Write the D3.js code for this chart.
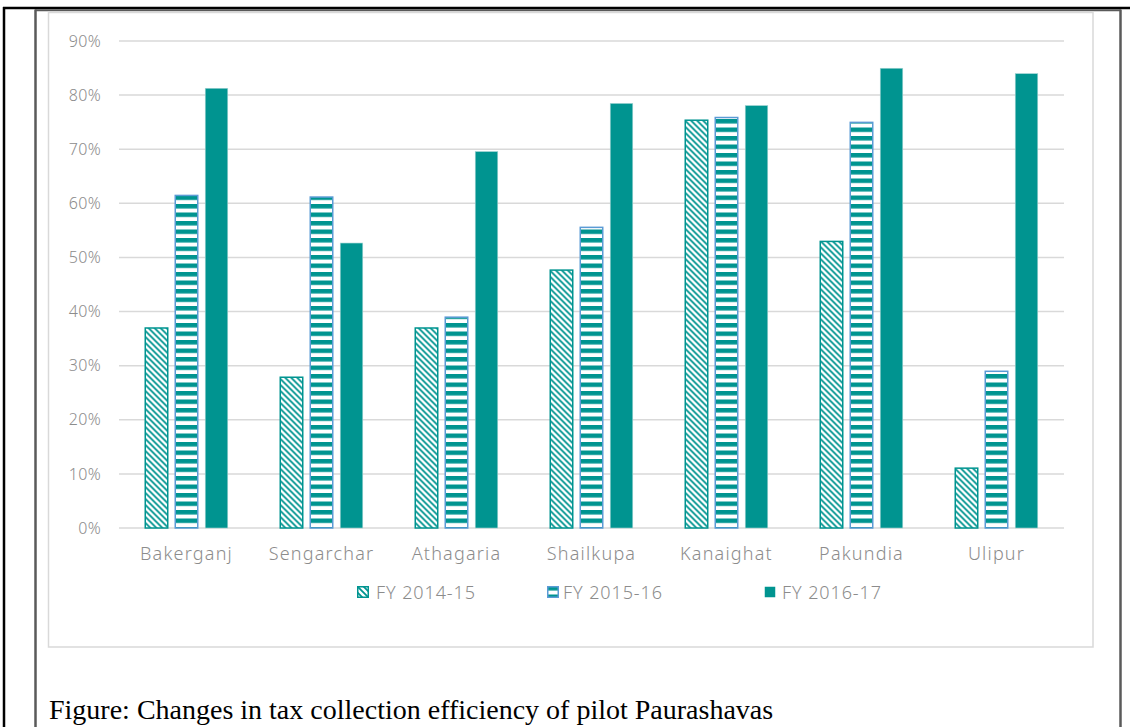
<!DOCTYPE html>
<html><head><meta charset="utf-8">
<script src="https://cdn.jsdelivr.net/npm/d3@7"></script>
<style>
html,body{margin:0;padding:0;background:#fff;}
svg{display:block;}
</style></head>
<body>
<svg id="c" width="1130" height="727"></svg>
<script>
const categories = ["Bakerganj","Sengarchar","Athagaria","Shailkupa","Kanaighat","Pakundia","Ulipur"];
const seriesNames = ["FY 2014-15","FY 2015-16","FY 2016-17"];
const fy1415 = [37.1, 28.0, 37.1, 47.8, 75.5, 53.1, 11.2];
const fy1516 = [61.6, 61.3, 39.1, 55.7, 76.0, 75.1, 29.1];
const fy1617 = [81.4, 52.8, 69.7, 78.6, 78.2, 85.1, 84.1];
const yTicks = [0,10,20,30,40,50,60,70,80,90];
const caption = "Figure: Changes in tax collection efficiency of pilot Paurashavas";

const teal = "#009490";
const svg = d3.select("#c");

// patterns
const defs = svg.append("defs");
const hatch = defs.append("pattern").attr("id","hatch").attr("patternUnits","userSpaceOnUse")
  .attr("width",6).attr("height",6);
hatch.append("rect").attr("width",6).attr("height",6).attr("fill","#fff");
hatch.append("path").attr("d","M-1,-1 L7,7 M-4,2 L1,7 M2,-4 L7,1").attr("stroke",teal).attr("stroke-width",1.8);
const stripe = defs.append("pattern").attr("id","stripe").attr("patternUnits","userSpaceOnUse")
  .attr("width",8).attr("height",8.5);
stripe.append("rect").attr("width",8).attr("height",8.5).attr("fill","#fff");
stripe.append("rect").attr("y",0).attr("width",8).attr("height",4.5).attr("fill",teal);

// outer page frame
svg.append("line").attr("x1",3).attr("x2",1130).attr("y1",8).attr("y2",8).attr("stroke","#000").attr("stroke-width",2.5);
svg.append("line").attr("x1",4).attr("x2",4).attr("y1",7).attr("y2",727).attr("stroke","#000").attr("stroke-width",2.5);
svg.append("line").attr("x1",35).attr("x2",1121).attr("y1",10.3).attr("y2",10.3).attr("stroke","#5a5a5a").attr("stroke-width",2);
svg.append("line").attr("x1",35.5).attr("x2",35.5).attr("y1",9.5).attr("y2",727).attr("stroke","#5a5a5a").attr("stroke-width",2.5);
svg.append("line").attr("x1",1120.5).attr("x2",1120.5).attr("y1",9.5).attr("y2",727).attr("stroke","#5a5a5a").attr("stroke-width",2.5);

// chart box
svg.append("rect").attr("x",48.5).attr("y",12.5).attr("width",1044.5).attr("height",634.5)
  .attr("fill","#fff").attr("stroke","#d9d9d9").attr("stroke-width",1.5);

const x0 = d3.scaleBand().domain(categories).range([119,1064]).paddingInner(0).paddingOuter(0);
const x1 = d3.scaleBand().domain(seriesNames).range([0,84]).paddingInner(0.2);
const y = d3.scaleLinear().domain([0,90]).range([528,41]);

// gridlines
svg.append("g").selectAll("line").data(yTicks).join("line")
  .attr("x1",119).attr("x2",1064).attr("y1",d=>y(d)).attr("y2",d=>y(d))
  .attr("stroke","#d9d9d9").attr("stroke-width",1.5);

const labelFont = "Noto Sans, sans-serif";
const grey = "#8c8c8c";

// y axis labels
const yAxis = d3.axisLeft(y).tickValues(yTicks).tickFormat(d=>d+"%").tickSize(0).tickPadding(0);
const ya = svg.append("g").attr("transform","translate(101,0)").call(yAxis);
ya.select(".domain").remove();
ya.selectAll("text").attr("font-family",labelFont).attr("font-size",16).attr("fill",grey)
  .attr("font-weight",300).attr("letter-spacing",0.3);

// x axis labels
const xAxis = d3.axisBottom(x0).tickSize(0).tickPadding(0);
const xa = svg.append("g").attr("transform","translate(0,547)").call(xAxis);
xa.select(".domain").remove();
xa.selectAll("text").attr("font-family",labelFont).attr("font-size",18).attr("fill",grey)
  .attr("font-weight",300).attr("letter-spacing",1.2);

// bars
const rows = categories.map((c,i)=>({cat:c, vals:[fy1415[i],fy1516[i],fy1617[i]]}));
const fills = ["url(#hatch)","url(#stripe)",teal];
const strokes = [teal,"#5b9bd5","#9fd3d2"];
const groups = svg.append("g").selectAll("g").data(rows).join("g")
  .attr("transform",d=>`translate(${x0(d.cat)+x0.bandwidth()/2-42},0)`);
groups.selectAll("rect").data(d=>d.vals.map((v,j)=>({v,j}))).join("rect")
  .attr("x",d=>x1(seriesNames[d.j])+0.75)
  .attr("width",x1.bandwidth()-1.5)
  .attr("y",d=>y(d.v)+0.75)
  .attr("height",d=>y(0)-y(d.v)-0.75)
  .attr("fill",d=>fills[d.j])
  .attr("stroke",d=>strokes[d.j])
  .attr("stroke-width",d=>d.j===2?0.6:1.5);

// legend
const legX = [357, 547, 764];
const lg = svg.append("g").selectAll("g").data(seriesNames).join("g")
  .attr("transform",(d,i)=>`translate(${legX[i]},586)`);
lg.append("rect").attr("x",0.75).attr("y",0.75).attr("width",10.5).attr("height",10.5)
  .attr("fill",(d,i)=>fills[i]).attr("stroke",(d,i)=>strokes[i]).attr("stroke-width",(d,i)=>i===2?0:1.5);
lg.append("text").attr("x",(d,i)=>[19,16,18][i]).attr("y",12.5).text(d=>d)
  .attr("font-family",labelFont).attr("font-size",18).attr("fill",grey)
  .attr("font-weight",300).attr("letter-spacing",0.9);

// caption
svg.append("text").attr("x",49).attr("y",719).text(caption)
  .attr("font-family","Liberation Serif, Times New Roman, serif").attr("font-size",28).attr("fill","#000");
</script>
</body></html>
